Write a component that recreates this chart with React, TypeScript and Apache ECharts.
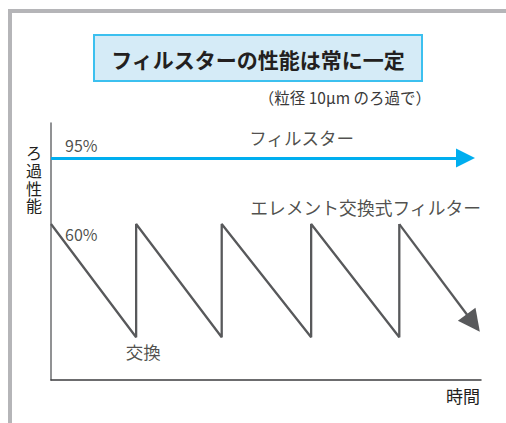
import React, { useEffect, useRef } from "react";
import * as echarts from "echarts";

const TITLE = "フィルスターの性能は常に一定";
const SUBTITLE = "（粒径 10μm のろ過で）";
const Y_NAME = "ろ過性能";
const X_NAME = "時間";
const FILTER_NAME = "フィルスター";
const ELEMENT_NAME = "エレメント交換式フィルター";
const EXCHANGE_LABEL = "交換";

// Filster: constant performance (time, performance)
const filterLine: number[][] = [
  [0, 95],
  [96.4, 95],
];
// Element-exchange filter: sawtooth (time, performance)
const elementX = [0, 19.8, 19.8, 39.7, 39.7, 60.5, 60.5, 81, 81];
const elementY = [60, 0, 60, 0, 60, 0, 60, 0, 60];
// final declining segment with arrow
const elementTail: number[][] = [
  [81, 60],
  [98.2, 7.5],
];
const levelLabels = [
  { x: 0, y: 95, text: "95%" },
  { x: 0, y: 60, text: "60%" },
];

const FONT = '"Noto Sans CJK JP", "Noto Sans", sans-serif';
const TXT = "#231f20";
const GRAY = "#58595b";
const BLUE = "#00aeef";

export default function App() {
  const ref = useRef<HTMLDivElement>(null);
  useEffect(() => {
    if (!ref.current) return;
    const chart = echarts.init(ref.current, undefined, { renderer: "svg" });
    const sawtooth = elementX.map((x, i) => [x, elementY[i]]);
    const yNameChars = Y_NAME.split("").map((ch, i) => ({
      type: "text",
      x: 34,
      y: 152 + i * 17.8,
      style: {
        text: ch,
        fill: TXT,
        font: `16px ${FONT}`,
        lineHeight: 16,
        align: "center",
        verticalAlign: "middle",
      },
    }));
    chart.setOption({
      animation: false,
      backgroundColor: "#ffffff",
      textStyle: { fontFamily: FONT },
      grid: { left: 51, top: 123, right: 25, bottom: 43, containLabel: false },
      xAxis: {
        type: "value",
        min: 0,
        max: 100,
        axisLine: { onZero: false, lineStyle: { color: "#3d3d3f", width: 1.5 } },
        axisTick: { show: false },
        axisLabel: { show: false },
        splitLine: { show: false },
        name: X_NAME,
        nameLocation: "end",
        nameGap: -1,
        nameTextStyle: {
          color: TXT,
          fontSize: 17,
          fontFamily: FONT,
          align: "right",
          verticalAlign: "top",
          padding: [7, 0, 0, 0],
        },
      },
      yAxis: {
        type: "value",
        min: -22.7,
        max: 113.6,
        axisLine: { lineStyle: { color: "#6d6e71", width: 1.5 } },
        axisTick: { show: false },
        axisLabel: { show: false },
        splitLine: { show: false },
      },
      graphic: [
        { type: "rect", shape: { x: 8, y: 9, width: 498, height: 4 }, style: { fill: "#b5b5b8" } },
        { type: "rect", shape: { x: 8, y: 9, width: 4, height: 414 }, style: { fill: "#b5b5b8" } },
        {
          type: "rect",
          shape: { x: 94, y: 35, width: 328, height: 46 },
          style: { fill: "#d5ebf7", stroke: "#3cc0ef", lineWidth: 2 },
        },
        {
          type: "text",
          x: 258,
          y: 59,
          style: {
            text: TITLE,
            fill: TXT,
            font: `bold 21px ${FONT}`,
            align: "center",
            verticalAlign: "middle",
          },
        },
        {
          type: "text",
          x: 431,
          y: 97,
          style: {
            text: SUBTITLE,
            fill: "#3a3a3a",
            font: `15.5px ${FONT}`,
            align: "right",
            verticalAlign: "middle",
          },
        },
        ...yNameChars,
      ],
      series: [
        {
          type: "lines",
          coordinateSystem: "cartesian2d",
          symbol: ["none", "triangle"],
          symbolSize: [20, 19],
          lineStyle: { color: BLUE, width: 3, opacity: 1 },
          label: { show: false },
          data: [{ coords: filterLine }],
          z: 3,
        },
        {
          type: "line",
          data: sawtooth,
          symbol: "none",
          lineStyle: { color: GRAY, width: 2.3 },
          z: 2,
        },
        {
          type: "lines",
          coordinateSystem: "cartesian2d",
          symbol: ["none", "triangle"],
          symbolSize: [18, 22],
          lineStyle: { color: GRAY, width: 2.3, opacity: 1 },
          data: [{ coords: elementTail }],
          z: 2,
        },
        {
          type: "scatter",
          symbolSize: 0,
          data: levelLabels.map((d) => ({
            value: [d.x, d.y],
            label: {
              show: true,
              formatter: d.text,
              position: "right",
              offset: d.y > 80 ? [9, -13] : [9, 10],
              color: TXT,
              fontSize: 16,
              fontFamily: FONT,
            },
          })),
          silent: true,
          z: 4,
        },
        {
          type: "scatter",
          symbolSize: 0,
          silent: true,
          data: [
            {
              value: [58.3, 95],
              label: { show: true, formatter: FILTER_NAME, position: "top", distance: 12, color: TXT, fontSize: 17.5, fontFamily: FONT },
            },
            {
              value: [100, 60],
              label: { show: true, formatter: ELEMENT_NAME, position: "left", distance: 0, offset: [0, -17], color: TXT, fontSize: 17.8, fontFamily: FONT },
            },
            {
              value: [19.8, 0],
              label: { show: true, formatter: EXCHANGE_LABEL, position: "bottom", distance: 6, offset: [7, 0], color: TXT, fontSize: 17.5, fontFamily: FONT },
            },
          ],
          z: 4,
        },
      ],
    });
    return () => chart.dispose();
  }, []);
  return (
    <div
      ref={ref}
      style={{ position: "fixed", left: 0, top: 0, width: 506, height: 423 }}
    />
  );
}
